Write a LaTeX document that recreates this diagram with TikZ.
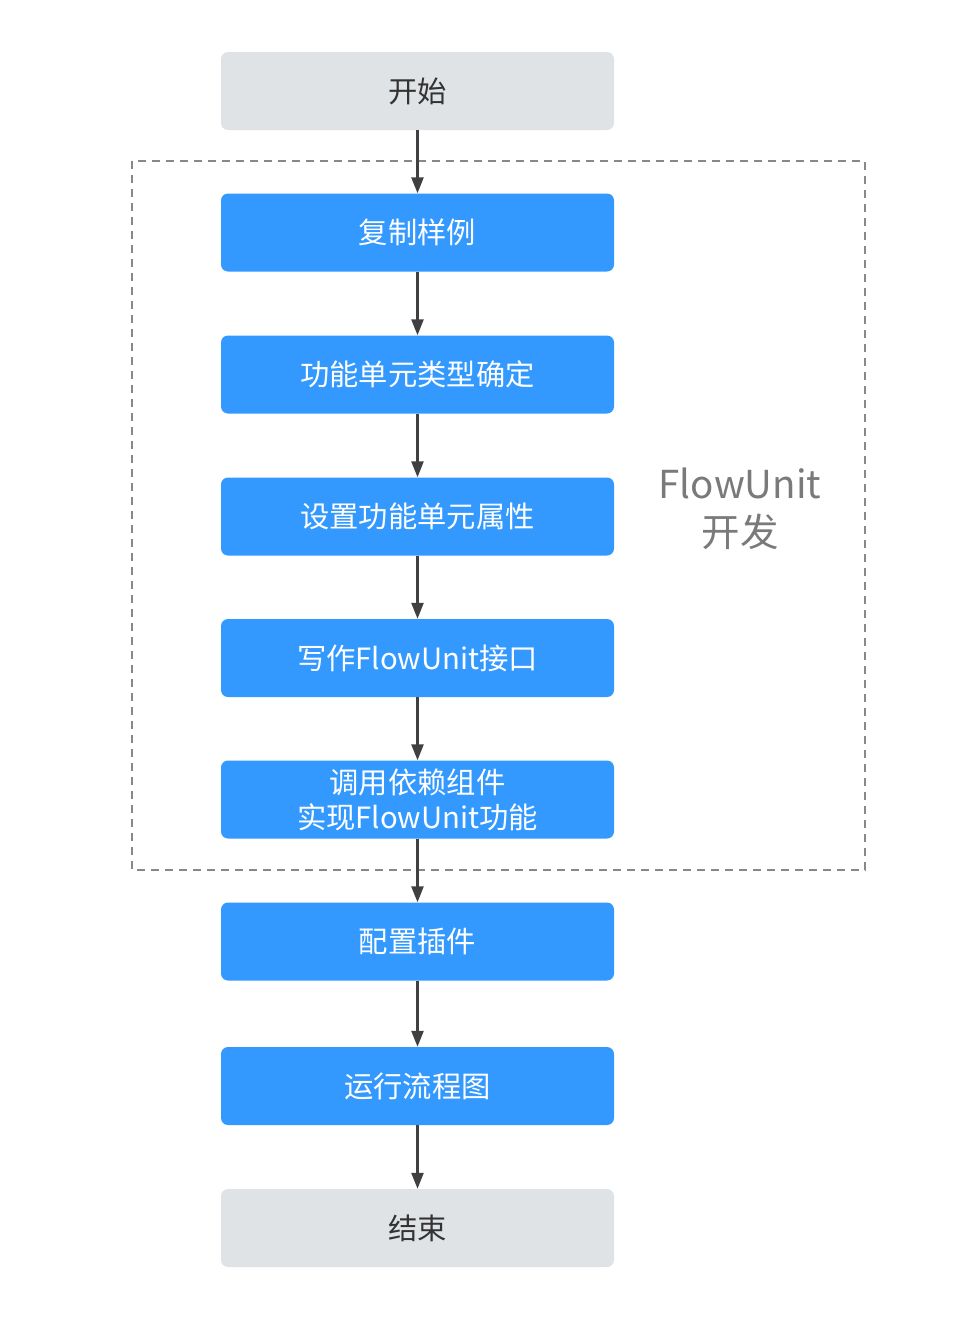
\documentclass[tikz,border=0pt]{standalone}
\usepackage{fontspec}
\setmainfont{Noto Sans CJK SC}
\usetikzlibrary{arrows.meta}
\definecolor{boxblue}{RGB}{51,153,255}
\definecolor{boxgray}{RGB}{224,227,230}
\definecolor{arrowc}{RGB}{64,64,66}
\definecolor{dashc}{RGB}{136,136,136}
\definecolor{labelc}{RGB}{122,122,122}
\tikzset{
  base/.style={rounded corners=7pt, minimum width=393pt, minimum height=78pt, inner sep=0pt, align=center, font=\fontsize{29.3pt}{35pt}\selectfont},
  bluebox/.style={base, fill=boxblue, text=white},
  graybox/.style={base, fill=boxgray, text={rgb,255:red,51;green,51;blue,51}},
  conn/.style={draw=arrowc, line width=2.5pt, -{Triangle[length=16pt,width=12pt]}},
}
\begin{document}
\begin{tikzpicture}[x=1pt,y=-1pt]
\useasboundingbox (0,0) rectangle (969,1339);
\draw[dashc, line width=2pt, dash pattern=on 8pt off 6pt] (132,161) rectangle (865,870);
\node[graybox] (s) at (417.5,91) {开始};
\node[bluebox] (b1) at (417.5,232.5) {复制样例};
\node[bluebox] (b2) at (417.5,374.5) {功能单元类型确定};
\node[bluebox] (b3) at (417.5,516.5) {设置功能单元属性};
\node[bluebox] (b4) at (417.5,658) {写作FlowUnit接口};
\node[bluebox] (b5) at (417.5,799.5) {调用依赖组件\\实现FlowUnit功能};
\node[bluebox] (b6) at (417.5,941.5) {配置插件};
\node[bluebox] (b7) at (417.5,1086) {运行流程图};
\node[graybox] (e) at (417.5,1228) {结束};
\node[text=labelc, align=center, font=\fontsize{38.5pt}{48pt}\selectfont] (lbl) at (740,509) {FlowUnit\\开发};
\foreach \a/\b in {s/b1,b1/b2,b2/b3,b3/b4,b4/b5,b5/b6,b6/b7,b7/e}
  \draw[conn] (\a.south) -- (\b.north);
\end{tikzpicture}
\end{document}
